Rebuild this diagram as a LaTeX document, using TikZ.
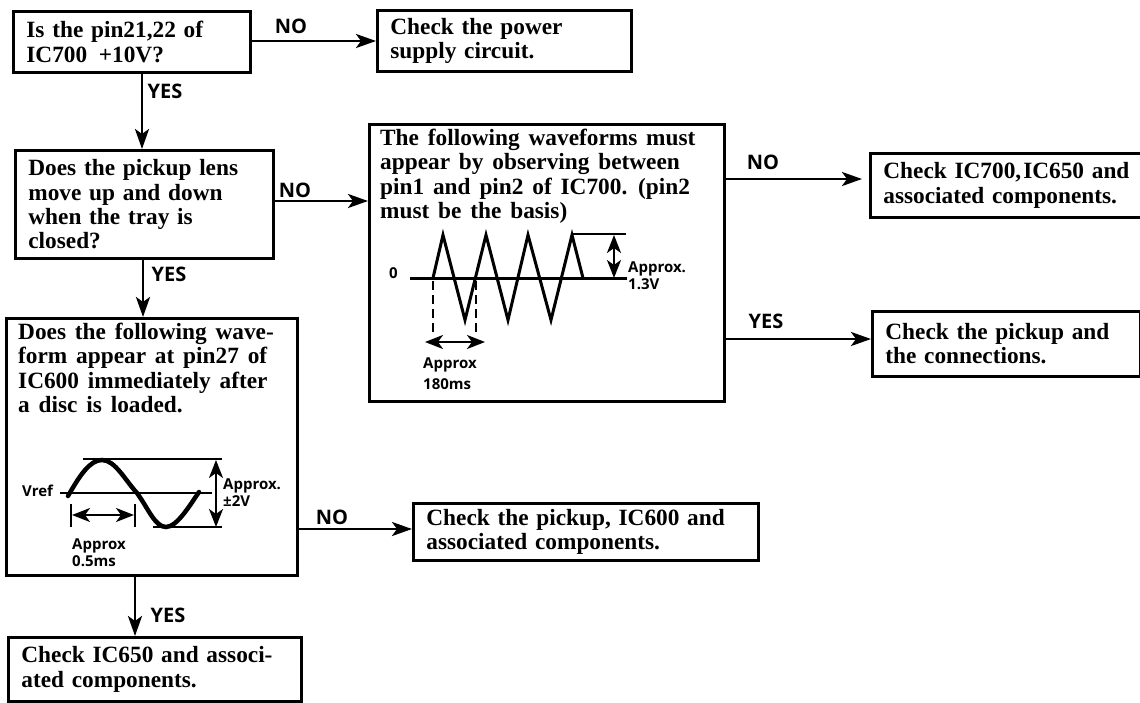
\documentclass[tikz,border=0pt]{standalone}
\usepackage{fontspec}
\setmainfont{Liberation Serif}
\newfontfamily\lblfont{Open Sans}
\usetikzlibrary{arrows.meta,calc}
\tikzset{
  box/.style={draw,line width=2.8pt,anchor=north west,inner xsep=0pt,inner ysep=0pt,align=left,font=\bodytxt},
  txt/.style={anchor=north west,inner sep=0pt,align=left,font=\bodytxt},
  arr/.style={line width=2.8pt,-{Stealth[length=20pt,width=14pt,inset=5pt]}},
  dbl/.style={line width=2pt,{Stealth[length=18pt,width=14pt,inset=5pt]}-{Stealth[length=18pt,width=14pt,inset=5pt]}},
  lbl/.style={inner sep=0pt,font=\lblfont\bfseries\fontsize{20}{20}\selectfont},
  small/.style={anchor=west,inner sep=0pt,align=left,font=\lblfont\bfseries\fontsize{15}{17}\selectfont},
  wave/.style={line width=3pt,line join=miter},
}
\newcommand{\bodytxt}{\fontsize{23.3}{24.3}\selectfont\bfseries\spaceskip=0.38em plus 0.1em\relax}
\newcommand{\mkbox}[6]{% name, x1, y1, x2, y2, text
  \node[box,minimum width=#4pt-#2pt,minimum height=#5pt-#3pt,text width=#4pt-#2pt-18pt,inner xsep=9pt,xshift=4pt,fill=none,draw=none] (t#1) at (#2,#3) {#6};
  \node[box,minimum width=#4pt-#2pt,minimum height=#5pt-#3pt] (#1) at (#2,#3) {};}
\begin{document}
\begin{tikzpicture}[x=1pt,y=-1pt]
\useasboundingbox (0,0) rectangle (1140,702);
\mkbox{bA}{12}{10}{249}{71}{Is the pin21,22 of\\IC700 \,+10V?}
\mkbox{bB}{376}{9}{630}{70}{Check the power\\supply circuit.}
\mkbox{bC}{14}{149}{272}{257}{Does the pickup lens\\move up and down\\when the tray is\\closed?}
\mkbox{bD}{368}{123}{723}{400}{}
\node[txt] (tD) at (380,129) {The following waveforms must\\appear by observing between\\pin1 and pin2 of IC700. (pin2\\must be the basis)};
\mkbox{bE}{869}{152}{1150}{216}{Check IC700,\kern2pt IC650 and\\associated components.}
\mkbox{bF}{871}{310}{1139}{375}{Check the pickup and\\the connections.}
\mkbox{bG}{5}{317}{296}{574}{}
\node[txt] (tG) at (18,323) {Does the following wave-\\form appear at pin27 of\\IC600 immediately after\\a disc is loaded.};
\mkbox{bH}{412}{502}{757}{559}{Check the pickup, IC600 and\\associated components.}
\mkbox{bI}{7}{636}{300}{700}{Check IC650 and associ-\\ated components.}
% connectors
\coordinate (pB) at (376,41);
\coordinate (pD) at (368,201);
\coordinate (pE) at (862,179);
\coordinate (pF) at (871,339);
\coordinate (pH) at (412,529);
\draw[arr] (bA.east |- pB) -- (pB);
\draw[arr] (bC.east |- pD) -- (pD);
\draw[arr] (bD.east |- pE) -- (pE);
\draw[arr] (bD.east |- pF) -- (pF);
\draw[arr] (bG.east |- pH) -- (pH);
\coordinate (qC) at (142,149);
\coordinate (qG) at (143,317);
\coordinate (qI) at (135,636);
\draw[arr] (qC |- bA.south) -- (qC);
\draw[arr] (qG |- bC.south) -- (qG);
\draw[arr] (qI |- bG.south) -- (qI);
% connector labels
\node[lbl] (nA) at (291,26) {NO};
\node[lbl] (yA) at (165,91) {YES};
\node[lbl] (nC) at (295,190) {NO};
\node[lbl] (yC) at (169,274) {YES};
\node[lbl] (nD) at (763,162) {NO};
\node[lbl] (yD) at (766,321) {YES};
\node[lbl] (nG) at (332,517) {NO};
\node[lbl] (yG) at (168,615) {YES};
% triangle waveform
\draw[line width=3pt] (410,278) -- (627,278);
\draw[wave] (433,278) -- (443,235) -- (465,320) -- (486,235) -- (508,320) -- (528,235) -- (551,320) -- (572,235) -- (583,278);
\draw[line width=2.4pt] (572,234) -- (626,234);
\draw[dbl] (614,235) -- (614,278);
\draw[line width=2.6pt,dash pattern=on 9pt off 5pt] (433,281) -- (433,332);
\draw[line width=2.6pt,dash pattern=on 9pt off 5pt] (476,281) -- (476,332);
\draw[dbl] (425,342) -- (485,342);
\node[small] (z0) at (389,273) {0};
\node[small] (aV) at (628,276) {Approx.\\1.3V};
\node[small,font=\lblfont\bfseries\fontsize{15}{21}\selectfont] (aT) at (423,374) {Approx\\180ms};
% sine waveform
\draw[line width=2.6pt] (83,459) -- (222,459);
\draw[line width=2.2pt] (60,493) -- (212,493);
\draw[line width=2.6pt] (153,527) -- (222,527);
\draw[line width=4.5pt,line cap=round] (68,496) .. controls (80,475) and (90,460) .. (102,460) .. controls (115,460) and (125,480) .. (137,493) .. controls (148,508) and (155,527) .. (166,527) .. controls (177,527) and (190,505) .. (199,492);
\draw[dbl] (216,460) -- (216,527);
\draw[line width=2.2pt] (71,504) -- (71,527);
\draw[line width=2.2pt] (135,504) -- (135,527);
\draw[dbl] (72,515) -- (134,515);
\node[small] (vr) at (22,491) {Vref};
\node[small] (aP) at (223,493) {Approx.\\±2V};
\node[small] (aQ) at (72,553) {Approx\\0.5ms};
\end{tikzpicture}
\end{document}
